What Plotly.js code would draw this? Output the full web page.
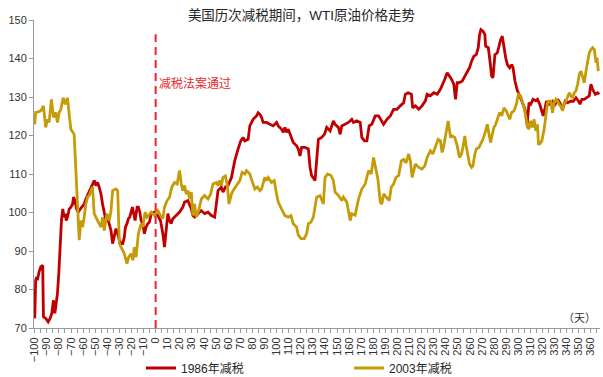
<!DOCTYPE html>
<html>
<head>
<meta charset="utf-8">
<script src="https://cdn.plot.ly/plotly-3.0.1.min.js"></script>
<style>html,body{margin:0;padding:0;background:#fff;}#chart{width:603px;height:377px;}</style>
</head>
<body>
<div id="chart"></div>
<script>
// ---- Data ----
const chartTitle = "美国历次减税期间，WTI原油价格走势";
const seriesNames = ["1986年减税", "2003年减税"];
const cutDay = 0;
const cutLabel = "减税法案通过";
const unitLabel = "（天）";

const days1986 = [-100,-99.2,-98.3,-97.8,-96.4,-95,-93.4,-92.8,-90.9,-88.9,-87.3,-85.9,-84.5,-83.4,-82.6,-81.2,-80.1,-79,-77.9,-76.8,-75.7,-74.6,-74,-72.9,-71.5,-70.1,-68.7,-67.9,-66.8,-65.4,-64,-62.4,-60.4,-59.1,-57.7,-55.8,-54.1,-52.7,-50.8,-49.4,-48,-46.7,-45.2,-43.9,-42.5,-41.1,-40.3,-39.2,-38.1,-36.9,-35.6,-34.2,-32.8,-31.4,-30,-28.6,-27.2,-25.9,-25,-23.7,-22.5,-21.4,-20.3,-19.2,-18.1,-17,-15.3,-14.3,-13.1,-12,-10.6,-9.3,-7.9,-6.5,-5.1,-3.7,-1,1.8,4,6,7.3,8.7,10.1,11.5,12.9,14.2,17,19.8,22.5,23.9,26.7,28.1,29.5,30.8,32.2,35,37.8,40.5,43.3,46.1,48.8,50.2,51.6,54.3,55.7,57.7,59.9,62.7,65.4,68.2,70.4,72.3,73.7,76.5,77.9,80.6,83.4,84.8,86.2,87.6,88.9,91.7,94.5,97.2,100,101.4,104.2,105.5,106.9,108.3,109.7,111.9,113.8,116.6,118,119.4,120.7,123.5,126.3,127.7,129,131.8,133.2,134.6,137.3,139.6,141.5,144.3,147,148.4,151.2,152.6,153.9,156.7,159.5,162.2,163.6,166.4,169.2,170.5,172.7,174.7,176.6,178.8,181.6,184.4,187.1,188.5,191.3,194.1,196.8,199.6,202.3,205.1,206.5,208.7,211.5,212.6,214.8,217.6,220.3,223.1,224.5,227.2,230,232.8,235.5,237.5,239.1,241.1,243,244.7,246.6,248,249.4,250.7,253.5,255.7,257.7,259.6,261.3,263.2,265.2,266.8,267.9,269,270.7,272.3,272.9,275.1,276.2,277.9,279,280.6,282.6,284,285.3,286.7,288.1,289.5,290.9,292.8,294.5,295.6,297.2,299.2,301.1,303.3,305.5,307.2,308.8,310.2,312.2,314.4,315.8,317.7,319.4,320.5,322.1,323.2,325.4,328.2,330.4,332.4,334.3,336.5,338.7,340.7,343.4,345.4,347.6,349.8,350.9,352.5,354.5,356.4,358.6,360,361.4,363.6,365.5,366.9];
const oil1986 = [72.5,82.4,83.3,82.4,84.6,85.9,86.3,72.9,72.5,71.6,72.5,73.8,77.2,73.8,75.5,79,84.1,91,97.9,100.9,98.8,99.7,97.9,98.8,100.9,101.4,102.2,104,103.1,100.9,100.1,100.9,101.8,102.2,103.5,104.8,105.7,106.6,108.3,107,107.8,106.6,104.8,102.2,99.7,97.9,99.2,97.9,97.1,95.3,91.9,93.6,95.8,94.5,92.8,91.9,91.9,93.6,96.2,97.1,98.4,98.8,100.1,101.4,99.7,97.9,101.4,101.4,100.1,97.9,97.1,94.5,96.2,97.1,97.5,99.7,100.1,99.2,97.9,94.5,91,96.2,99.7,97.9,97.1,98.4,99.2,100.1,101.4,102.7,103.1,102.2,100.9,99.2,98.8,99.7,100.5,99.7,100.1,99.2,98.8,102.2,105.7,106.6,105.3,106.6,107,109.1,113.4,116.5,118.6,119.5,118.6,119,122.5,124.2,125.1,125.9,125.5,124.7,123.4,123.4,122.9,122.5,123.4,122.5,121.6,120.8,122.1,120.8,121.6,119.5,118.2,117.3,116.5,114.7,116.9,116.9,116.5,111.7,109.6,108.3,114.3,119,119.5,120.3,122.1,121.2,123.8,122.9,122.1,120.3,122.5,122.9,123.4,124.2,123.4,123.8,123.4,119.5,118.6,118.6,122.5,122.9,125.1,125.1,123.8,122.9,124.2,125.1,126.8,126.8,127.7,128.5,130.7,131.1,130.7,127.2,127.7,126.8,127.7,129,130.7,130.3,131.1,130.7,132,133.3,134.6,136.3,135.4,134.6,133.3,129.4,133.7,133.7,134.1,135.4,136.7,137.6,139.3,140.6,141,142.8,146.2,147.5,147.1,146.2,143.2,142.8,140.2,135.4,135,141,141.5,143.2,144.9,145.8,142.8,140.2,138.4,137.6,138.4,137.6,134.1,131.6,130.3,128.5,126.8,122.9,128.5,128.1,129.4,129,129.4,128.1,126.4,125.1,127.2,128.9,128.1,128.9,128.1,129.4,128.5,126.8,128.9,128.5,128.9,128.9,129.8,128.9,128.1,129.4,129.4,129.8,130.3,133.3,132,130.7,131.1,130.7];

const days2003 = [-100,-99.2,-98.3,-95,-92.8,-90.9,-89.5,-88.1,-86.2,-84.5,-83.4,-82.6,-81.2,-79.8,-78.4,-76.5,-74.8,-72.9,-71.5,-70.1,-67.4,-63.2,-61.8,-60.4,-59.1,-57.7,-56.3,-54.9,-52.2,-50.8,-48,-45.2,-43.9,-42.5,-40.3,-38.3,-36.9,-35.6,-32.8,-31.4,-30,-28.6,-25.9,-23.7,-22.3,-20.3,-18.9,-17.6,-16.2,-14.3,-12,-10.6,-8.7,-7.1,-5.1,-3.7,-1,1.8,4,6,7.3,9.5,11.5,13.4,15.6,17.8,19.8,21.2,22.5,23.9,25.3,26.7,28.1,29.5,30.8,32.2,33.6,35.6,37.8,40.5,43.3,45.5,47.4,50.2,51.6,53,54.3,55.7,57.7,59.3,60.7,62.7,64.1,66.8,69.6,71.5,73.7,75.1,76.5,77.9,79.2,82,84.2,86.2,87.6,90.3,91.7,93.1,95.8,98.1,100,101.4,104.2,106.9,109.7,111.9,113.8,116.6,118,120.2,123,124.9,126.3,128.5,130.4,132.4,133.2,135.9,138.7,140.1,142.3,145.1,147,148.4,151.2,153.9,155.3,158.1,159.5,160.9,162.2,165,166.4,167.8,170.5,173.3,176.1,178.3,180.2,182.1,183.8,185.8,187.1,188.5,191.3,193.2,194.9,196.8,198.8,201,203.2,205.1,207.1,209.3,210.7,212.1,214.8,217.6,220.3,222.6,224.5,227.2,229.2,231.4,233.6,235.5,236.9,238.3,239.7,241.9,243.9,245.2,247.4,249.4,251.3,253,254.1,255.7,256.8,258.5,259.6,261.3,262.4,264,265.2,267.4,269.6,270.7,272.9,274.3,275.7,277.1,278.4,279.8,281.2,283.4,284.5,286.2,288.1,290,291.7,292.8,294.5,296.4,298.3,300,301.9,303.3,304.7,306.1,307.4,308.8,310.2,311.6,313,314.4,315.8,316.6,317.7,319.4,320.5,321.3,322.7,324.1,325.4,326.8,328.2,329.6,331,332.4,333.8,335.2,336.5,337.9,339.3,340.7,342.1,343.4,344.8,346.2,347.6,349,350.4,351.8,353.1,354.5,355.9,357.3,358.6,360,361.4,362.8,364.2,365,366.1];
const oil2003 = [122.9,126,126,126.4,127.7,122.1,124.2,123.4,129.4,124.7,125.5,126,123.4,126,126.8,129.8,128.1,129.8,125.5,121.6,120.3,92.8,97.9,96.2,98.8,102.2,104,104.4,106.6,99.7,97.9,96.2,98.8,95.3,99.7,97.9,100.5,105.7,106.1,105.7,91.9,91,89.3,86.7,88.4,89.3,87.6,91,88.4,94.5,97.1,96.2,100.1,98.8,99.7,100.1,99.2,100.5,99.2,98.4,101.4,103.1,104,106.6,107.8,107.4,110.9,107.4,105.7,107,104.8,105.7,103.5,105.3,99.2,102.2,98.8,100.5,103.5,104.4,103.5,104.8,107.4,107.8,107,108.3,107,109.1,109.5,107,102.2,104.8,105.7,107,108.3,110.4,110,110.9,110.4,110,108.7,106.1,106.6,105.7,106.1,109.1,108.3,109.1,107.8,108.3,104.8,102.7,100.9,99.2,98.8,99.2,97.1,96.2,94.1,93.2,93.2,94.5,97.1,97.5,98.8,102.2,104,104.4,102.2,109.1,110,109.6,108.3,105.3,104.4,103.1,104,102.7,100.1,97.9,99.7,99.3,101.4,103.5,106.1,107.4,110.9,110,114.3,111.7,108.7,102.7,102.2,104.8,103.9,103.1,106.6,107.4,109.1,109.6,113.4,113.8,112.9,115.2,113.4,109.1,112.6,111.7,111.3,112.1,114.3,116,115.2,117.3,119,118.6,115.6,117.3,120.3,123.8,119.5,119.9,119.5,117.3,114.3,115.2,116.9,119.9,117.3,114.3,112.6,111.7,112.1,115.2,116.5,116.9,118.2,119,121.2,122.9,120.3,118.2,120.3,122.1,122.9,124.7,126,125.1,127.2,126.4,124.7,124.2,126,126.4,128.1,130.7,130.3,129,127.2,125.1,122.1,121.7,123.8,122.1,124.2,121.2,122.9,117.8,117.8,118.6,119.9,121.6,125.1,128.5,128.9,128.9,125.9,128.5,129.4,128.9,128.1,127.6,126.4,128.5,128.9,129.8,131.1,130.3,129.8,131.1,131.6,133.3,135.9,136.7,135.4,133.7,136.7,138.9,141.5,142.3,142.8,142.3,138.9,140.2,136.7];

const xTickStart = -100, xTickEnd = 360, xTickStep = 10;
const yTicks = [70, 80, 90, 100, 110, 120, 130, 140, 150];

// ---- Styling ----
const FONT = "Liberation Sans, Arial, 'Noto Sans CJK SC', sans-serif";
const RED = "#C00000";
const GOLD = "#C59B08";
const CUT_RED = "#E8262B";

const traces = [
  {x: days1986, y: oil1986, name: seriesNames[0], type: "scatter", mode: "lines",
   line: {color: RED, width: 2.8}},
  {x: days2003, y: oil2003, name: seriesNames[1], type: "scatter", mode: "lines",
   line: {color: GOLD, width: 2.8}}
];

const layout = {
  width: 603, height: 377,
  margin: {l: 34, r: 3, t: 20, b: 49, autoexpand: false},
  paper_bgcolor: "#fff", plot_bgcolor: "#fff",
  font: {family: FONT, size: 11, color: "#333"},
  title: {text: chartTitle, x: 0.5, xanchor: "center", xref: "container",
          y: 1 - 15/377, yanchor: "middle", yref: "container",
          font: {family: FONT, size: 13.5, color: "#262626"}},
  showlegend: true,
  legend: {orientation: "h", xref: "container", yref: "container",
           x: 141/603, xanchor: "left", y: 9/377, yanchor: "middle",
           font: {family: FONT, size: 12, color: "#262626"},
           entrywidth: 163, bgcolor: "rgba(0,0,0,0)", tracegroupgap: 0},
  xaxis: {range: [-100.6, 367.5], tickmode: "linear", tick0: xTickStart, dtick: xTickStep,
          tickangle: -90, ticks: "outside", ticklen: 4, tickcolor: "#999", tickwidth: 1,
          showline: true, linecolor: "#999", linewidth: 1, showgrid: false, zeroline: false,
          tickfont: {family: FONT, size: 11, color: "#333"},
          minor: {dtick: 5, tick0: xTickStart, ticks: "outside", ticklen: 4, tickcolor: "#999", showgrid: false},
          fixedrange: true},
  yaxis: {range: [70, 150], tickmode: "array", tickvals: yTicks,
          ticks: "outside", ticklen: 4, tickcolor: "#999", tickwidth: 1,
          showline: true, linecolor: "#999", linewidth: 1, showgrid: false, zeroline: false,
          tickfont: {family: FONT, size: 11, color: "#333"}, fixedrange: true},
  shapes: [
    {type: "line", xref: "x", yref: "y", x0: cutDay, x1: cutDay, y0: 70, y1: 146.3,
     line: {color: CUT_RED, width: 2, dash: "8px,5px"}, layer: "above"}
  ],
  annotations: [
    {text: cutLabel, xref: "x", yref: "y", x: cutDay, y: 133.4, xanchor: "left", yanchor: "middle",
     xshift: 1, showarrow: false, font: {family: FONT, size: 12, color: CUT_RED}},
    {text: unitLabel, xref: "paper", yref: "paper", x: 0.963, y: 0.0325, xanchor: "center", yanchor: "middle",
     showarrow: false, font: {family: FONT, size: 11, color: "#333"}}
  ]
};

Plotly.newPlot("chart", traces, layout, {displayModeBar: false, staticPlot: true});
</script>
</body>
</html>
